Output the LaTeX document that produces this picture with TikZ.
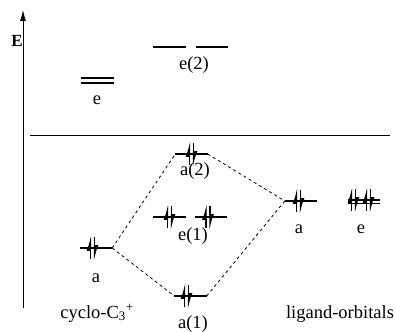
\documentclass[tikz,border=0pt]{standalone}
\usepackage{fontspec}
\setmainfont{Liberation Serif}
\usetikzlibrary{arrows.meta,calc}
\tikzset{
  >={Latex[length=11pt,width=6pt]},
  lvl/.style={inner sep=0pt, minimum width=32pt, minimum height=0pt},
  lvlline/.style={line width=1.3pt},
  elec/.style={line width=1.2pt, -{Latex[left,length=13pt,width=8pt]}},
  corr/.style={dash pattern=on 3pt off 3pt, line width=0.8pt},
  lbl/.style={anchor=base, inner sep=0pt},
}
% electron pair on a level: node, x shift
\newcommand{\epair}[2]{%
  \draw[elec] ($(#1)+(#2-2,11)$) -- ($(#1)+(#2-2,-13)$);
  \draw[elec] ($(#1)+(#2+2,-11)$) -- ($(#1)+(#2+2,13)$);}

\begin{document}
\begin{tikzpicture}[x=1pt, y=-1pt, font=\fontsize{18.5}{22}\selectfont]
  \useasboundingbox (0,0) rectangle (395,331);

  % energy axis and separator
  \coordinate (axbot) at (23,308);
  \coordinate (axtop) at (23,10);
  \draw[->, line width=0.8pt] (axbot) -- (axtop);
  \node[lbl, font=\bfseries\fontsize{17}{20}\selectfont] (elab) at (17,47) {E};
  \coordinate (sepl) at (30,135);
  \coordinate (sepr) at (390,135);
  \draw[line width=0.8pt] (sepl) -- (sepr);

  % levels
  \node[lvl] (et1) at (97.5,78) {};
  \node[lvl] (et2) at (97.5,83) {};
  \node[lvl] (e2a) at (169.5,47) {};
  \node[lvl] (e2b) at (212,47) {};
  \node[lvl] (a2) at (191.5,154) {};
  \node[lvl] (e1a) at (169.5,217) {};
  \node[lvl] (e1b) at (211,217) {};
  \node[lvl] (ca) at (96,248) {};
  \node[lvl] (a1) at (190.5,296) {};
  \node[lvl] (la) at (301,201) {};
  \node[lvl] (le1) at (364,200) {};
  \node[lvl] (le2) at (364,203.5) {};

  \foreach \n in {et1,et2,e2a,e2b,a2,e1a,e1b,ca,a1,la,le1,le2}
    \draw[lvlline] (\n.west) -- (\n.east);

  % electrons
  \epair{a2}{0}
  \epair{e1a}{0}
  \epair{e1b}{-3}
  \epair{ca}{-3.5}
  \epair{a1}{-4}
  \epair{la}{-2.5}
  \epair{le1}{-10.5}
  \epair{le1}{4.5}

  % correlation lines
  \draw[corr] (ca.east) -- (a2.west);
  \draw[corr] (ca.east) -- (a1.west);
  \draw[corr] (a2.east) -- (la.west);
  \draw[corr] (a1.east) -- (la.west);

  % labels
  \node[lbl] (lbet) at (97,105) {e};
  \node[lbl] (lbe2) at (194,70) {e(2)};
  \node[lbl] (lba2) at (195,175) {a(2)};
  \node[lbl] (lbe1) at (193,240) {e(1)};
  \node[lbl] (lbca) at (96,282) {a};
  \node[lbl] (lba1) at (193,328) {a(1)};
  \node[lbl] (lbla) at (299,233) {a};
  \node[lbl] (lble) at (361,233) {e};
  \node[lbl] (cyc) at (97,318) {cyclo-C\textsubscript{3}\textsuperscript{+}};
  \node[lbl] (lig) at (340,318) {ligand-orbitals};
\end{tikzpicture}
\end{document}
